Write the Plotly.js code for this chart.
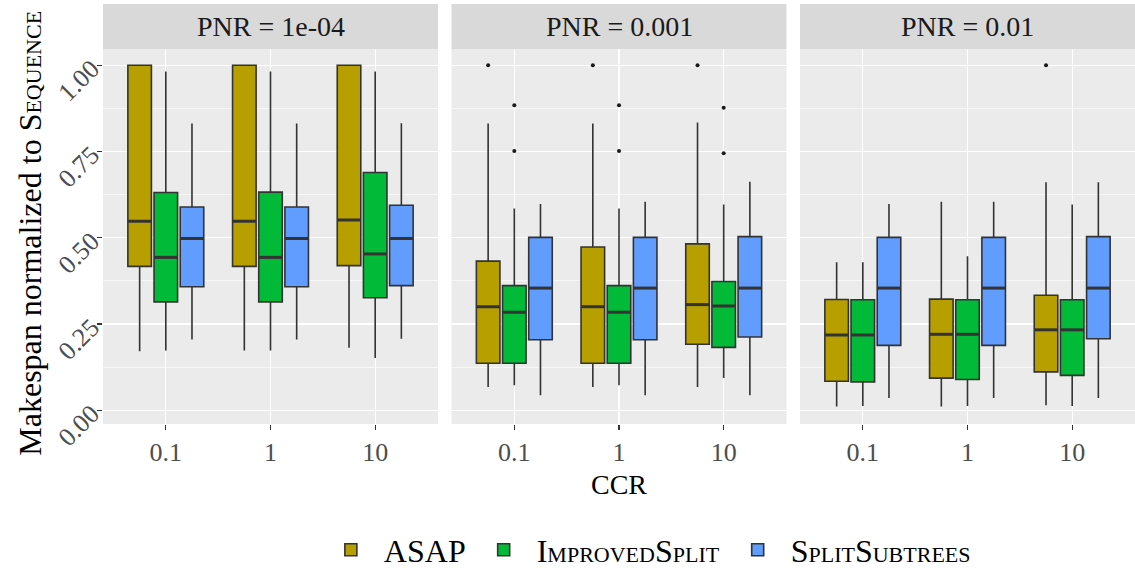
<!DOCTYPE html>
<html><head><meta charset="utf-8">
<script src="https://cdn.plot.ly/plotly-3.0.1.min.js"></script>
<style>html,body{margin:0;padding:0;background:#fff}#chart{width:1135px;height:578px}</style>
</head><body><div id="chart"></div>
<script>
// ---- data ----
const pnrLabels = ['1e-04', '0.001', '0.01'];
const ccrLabels = ['0.1', '1', '10'];
const seriesNames = ['ASAP', 'ImprovedSplit', 'SplitSubtrees'];
const seriesColors = ['#B79F00', '#00BA38', '#619CFF'];

// rows = PNR facet, columns = CCR
const asapLower  = [[0.171, 0.173, 0.181], [0.067, 0.067, 0.067], [0.011, 0.011, 0.014]];
const asapQ1     = [[0.417, 0.417, 0.419], [0.136, 0.136, 0.191], [0.084, 0.093, 0.111]];
const asapMedian = [[0.548, 0.548, 0.551], [0.300, 0.300, 0.306], [0.218, 0.220, 0.233]];
const asapQ3     = [[1.000, 1.000, 1.000], [0.432, 0.473, 0.482], [0.321, 0.322, 0.333]];
const asapUpper  = [[1.000, 1.000, 1.000], [0.831, 0.831, 0.834], [0.429, 0.604, 0.661]];

const impLower  = [[0.173, 0.173, 0.151], [0.072, 0.072, 0.093], [0.012, 0.012, 0.012]];
const impQ1     = [[0.314, 0.314, 0.326], [0.136, 0.136, 0.182], [0.082, 0.089, 0.101]];
const impMedian = [[0.443, 0.443, 0.453], [0.284, 0.284, 0.302], [0.218, 0.220, 0.233]];
const impQ3     = [[0.631, 0.632, 0.689], [0.361, 0.361, 0.373], [0.320, 0.320, 0.320]];
const impUpper  = [[0.982, 0.982, 0.982], [0.585, 0.585, 0.596], [0.429, 0.446, 0.596]];

const splLower  = [[0.205, 0.205, 0.207], [0.043, 0.043, 0.043], [0.035, 0.035, 0.035]];
const splQ1     = [[0.358, 0.358, 0.361], [0.204, 0.204, 0.212], [0.188, 0.188, 0.207]];
const splMedian = [[0.498, 0.498, 0.498], [0.354, 0.354, 0.354], [0.354, 0.354, 0.354]];
const splQ3     = [[0.589, 0.589, 0.594], [0.501, 0.501, 0.503], [0.501, 0.501, 0.503]];
const splUpper  = [[0.831, 0.831, 0.832], [0.598, 0.604, 0.662], [0.598, 0.604, 0.661]];

// outliers: facet index, CCR index, series index, value
const outlierPnr    = [1, 1, 1, 1, 1, 1, 1, 1, 1, 2];
const outlierCcr    = [0, 0, 0, 1, 1, 1, 2, 2, 2, 2];
const outlierSeries = [0, 1, 1, 0, 1, 1, 0, 1, 1, 0];
const outlierValue  = [1.000, 0.884, 0.751, 1.000, 0.884, 0.751, 1.000, 0.877, 0.745, 1.000];

// ---- build ----
const stats = [
  {lo: asapLower, q1: asapQ1, med: asapMedian, q3: asapQ3, hi: asapUpper},
  {lo: impLower, q1: impQ1, med: impMedian, q3: impQ3, hi: impUpper},
  {lo: splLower, q1: splQ1, med: splMedian, q3: splQ3, hi: splUpper}
];
const dodge = 0.25, boxW = 0.225;
const FONT = '"Liberation Serif", "DejaVu Serif", serif';
const W = 1032, panelW = 335, gap = (W - 3 * panelW) / 2;
const plotH = 426, panelH = 380, stripY0 = panelH / plotH;

const traces = [];
const ax = i => (i === 0 ? '' : String(i + 1));
for (let p = 0; p < pnrLabels.length; p++) {
  for (let s = 0; s < seriesNames.length; s++) {
    const xs = ccrLabels.map((c, k) => k + 1 + (s - 1) * dodge);
    traces.push({
      type: 'box', name: seriesNames[s], legendgroup: seriesNames[s], showlegend: p === 0,
      x: xs, q1: stats[s].q1[p], median: stats[s].med[p], q3: stats[s].q3[p],
      lowerfence: stats[s].lo[p], upperfence: stats[s].hi[p],
      width: boxW, whiskerwidth: 0, boxpoints: false,
      fillcolor: seriesColors[s], line: {color: '#333333', width: 1.6},
      xaxis: 'x' + ax(p), yaxis: 'y' + ax(p), hoverinfo: 'y'
    });
    traces.push({
      type: 'scatter', mode: 'markers', showlegend: false, hoverinfo: 'skip',
      x: xs, y: stats[s].med[p],
      marker: {symbol: 'line-ew', size: 16.3, line: {color: '#333333', width: 3}},
      xaxis: 'x' + ax(p), yaxis: 'y' + ax(p)
    });
  }
  const idx = outlierPnr.map((v, i) => i).filter(i => outlierPnr[i] === p);
  if (idx.length) {
    traces.push({
      type: 'scatter', mode: 'markers', showlegend: false, hoverinfo: 'y',
      x: idx.map(i => outlierCcr[i] + 1 + (outlierSeries[i] - 1) * dodge),
      y: idx.map(i => outlierValue[i]),
      marker: {color: '#1a1a1a', size: 4},
      xaxis: 'x' + ax(p), yaxis: 'y' + ax(p)
    });
  }
}

const layout = {
  width: 1135, height: 578,
  margin: {l: 103, r: 0, t: 4, b: 148},
  paper_bgcolor: '#ffffff', plot_bgcolor: '#EBEBEB',
  font: {family: FONT, size: 28, color: '#1a1a1a'},
  showlegend: true,
  legend: {orientation: 'h', x: 0.527, xanchor: 'center', y: -0.30, yanchor: 'middle',
           font: {family: FONT, size: 32, color: '#000', variant: 'small-caps'},
           itemwidth: 56, tracegroupgap: 0},
  shapes: [], annotations: []
};
for (let p = 0; p < 3; p++) {
  const x0 = (p * (panelW + gap)) / W, x1 = (p * (panelW + gap) + panelW) / W;
  layout['xaxis' + ax(p)] = {
    domain: [x0, Math.min(1, x1)], anchor: 'y' + ax(p),
    range: [0.4, 3.6], tickvals: [1, 2, 3], ticktext: ccrLabels,
    showgrid: true, gridcolor: '#ffffff', gridwidth: 1.3, zeroline: false,
    ticks: 'outside', ticklen: 5, tickcolor: '#333333', tickwidth: 1.1,
    tickfont: {family: FONT, size: 26, color: '#4D4D4D'}, showline: false
  };
  layout['yaxis' + ax(p)] = {
    domain: [0, stripY0], anchor: 'x' + ax(p),
    range: [-0.04, 1.046], tickvals: [0, 0.25, 0.5, 0.75, 1],
    ticktext: ['0.00', '0.25', '0.50', '0.75', '1.00'],
    showticklabels: p === 0, ticks: p === 0 ? 'outside' : '', ticklen: 5, tickcolor: '#333333', tickwidth: 1.1,
    tickangle: -45, tickfont: {family: FONT, size: 26, color: '#4D4D4D'},
    showgrid: true, gridcolor: '#ffffff', gridwidth: 1.3, zeroline: false,
    minor: {tickvals: [0.125, 0.375, 0.625, 0.875], showgrid: true, gridcolor: '#ffffff', gridwidth: 0.6, ticks: ''}
  };
  layout.shapes.push({type: 'rect', xref: 'x' + ax(p) + ' domain', yref: 'paper',
    x0: 0, x1: 1, y0: stripY0, y1: 1, fillcolor: '#D9D9D9', line: {width: 0}, layer: 'below'});
  layout.annotations.push({xref: 'x' + ax(p) + ' domain', yref: 'paper', x: 0.5, y: (stripY0 + 1) / 2,
    xanchor: 'center', yanchor: 'middle', showarrow: false, text: 'PNR = ' + pnrLabels[p],
    font: {family: FONT, size: 28, color: '#1A1A1A'}});
}
layout.annotations.push({xref: 'x2 domain', yref: 'paper', x: 0.5, y: (430 - 491) / plotH,
  xanchor: 'center', yanchor: 'middle', showarrow: false, text: 'CCR', borderpad: 0,
  font: {family: FONT, size: 28, color: '#000'}});
layout.annotations.push({xref: 'paper', yref: 'paper', x: (30 - 103) / W, y: (430 - 237) / plotH,
  xanchor: 'center', yanchor: 'middle', showarrow: false, textangle: -90,
  text: 'Makespan normalized to <span style="font-variant:small-caps">Sequence</span>',
  font: {family: FONT, size: 32, color: '#000'}});

Plotly.newPlot('chart', traces, layout, {displayModeBar: false, staticPlot: true});
</script></body></html>
